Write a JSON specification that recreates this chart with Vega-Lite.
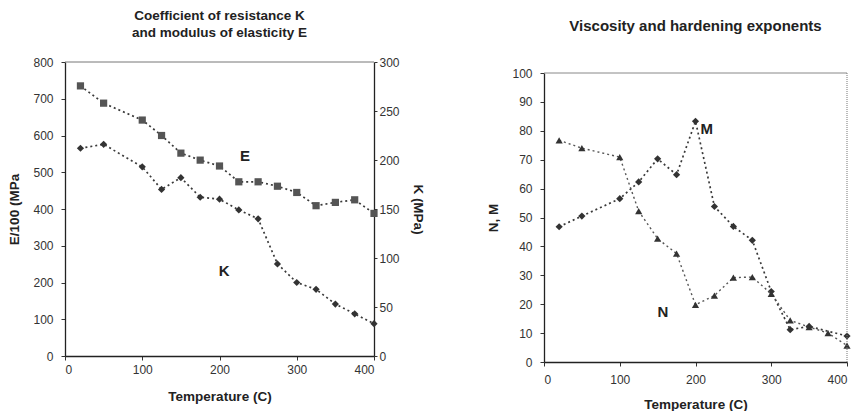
{
  "$schema": "https://vega.github.io/schema/vega-lite/v6.json",
  "padding": {"left": 7, "top": 8, "right": 5, "bottom": 0},
  "background": "white",
  "spacing": 61,
  "config": {
    "font": "Liberation Sans",
    "view": {"stroke": null},
    "axis": {
      "grid": false,
      "domainColor": "#222",
      "domainWidth": 1.3,
      "tickColor": "#333",
      "labelColor": "#333",
      "labelFont": "Liberation Sans",
      "labelFontSize": 12,
      "titleFont": "Liberation Sans",
      "titleFontSize": 13.5,
      "titleFontWeight": "bold",
      "titleColor": "#222",
      "tickSize": 4
    },
    "title": {"font": "Liberation Sans", "fontSize": 13.5, "fontWeight": "bold", "color": "#222"}
  },
  "datasets": {
    "EK": [
      {"T": 20, "E": 735, "K": 212},
      {"T": 50, "E": 688, "K": 216},
      {"T": 100, "E": 642, "K": 193},
      {"T": 125, "E": 600, "K": 170},
      {"T": 150, "E": 552, "K": 182},
      {"T": 175, "E": 533, "K": 162},
      {"T": 200, "E": 517, "K": 160},
      {"T": 225, "E": 474, "K": 149},
      {"T": 250, "E": 474, "K": 140},
      {"T": 275, "E": 462, "K": 94},
      {"T": 300, "E": 445, "K": 75},
      {"T": 325, "E": 409, "K": 68},
      {"T": 350, "E": 418, "K": 53},
      {"T": 375, "E": 425, "K": 43},
      {"T": 400, "E": 388, "K": 33}
    ],
    "M": [
      {"T": 20, "v": 46.8},
      {"T": 50, "v": 50.5},
      {"T": 100, "v": 56.5},
      {"T": 125, "v": 62.3},
      {"T": 150, "v": 70.3},
      {"T": 175, "v": 64.8},
      {"T": 200, "v": 83.3},
      {"T": 225, "v": 53.8},
      {"T": 250, "v": 46.9},
      {"T": 275, "v": 42.1},
      {"T": 300, "v": 24.4},
      {"T": 325, "v": 11.2},
      {"T": 350, "v": 12.3},
      {"T": 400, "v": 9.0}
    ],
    "N": [
      {"T": 20, "v": 76.7},
      {"T": 50, "v": 74.0},
      {"T": 100, "v": 70.9},
      {"T": 125, "v": 52.2},
      {"T": 150, "v": 42.7},
      {"T": 175, "v": 37.5},
      {"T": 200, "v": 19.8},
      {"T": 225, "v": 23.0},
      {"T": 250, "v": 29.2},
      {"T": 275, "v": 29.4},
      {"T": 300, "v": 23.6},
      {"T": 325, "v": 14.4},
      {"T": 350, "v": 12.1},
      {"T": 375, "v": 10.0},
      {"T": 400, "v": 5.7}
    ]
  },
  "hconcat": [
    {
      "width": 309,
      "height": 294,
      "title": {"text": ["Coefficient of resistance K", "and modulus of elasticity E"], "lineHeight": 17, "offset": 17},
      "layer": [
        {
          "data": {"name": "EK"},
          "encoding": {
            "x": {"field": "T", "type": "quantitative", "scale": {"domain": [0, 400]},
              "axis": {"values": [0, 100, 200, 300, 400], "title": "Temperature (C)", "labelPadding": 4, "titlePadding": 14}},
            "y": {"field": "E", "type": "quantitative", "scale": {"domain": [0, 800]},
              "axis": {"orient": "left", "values": [0, 100, 200, 300, 400, 500, 600, 700, 800], "title": "E/100 (MPa", "labelPadding": 8, "titlePadding": 11}}
          },
          "layer": [
            {"mark": {"type": "line", "color": "#3a3a3a", "strokeDash": [2, 3], "strokeWidth": 1.7}},
            {"mark": {"type": "point", "shape": "square", "filled": true, "size": 52, "color": "#555", "opacity": 1}},
            {"data": {"values": [{"T": 233, "E": 544, "label": "E"}]},
              "mark": {"type": "text", "fontSize": 15, "fontWeight": "bold", "color": "#222"},
              "encoding": {"text": {"field": "label"}}},
            {"data": {"values": [{"T0": 0, "T1": 400, "E": 800}]},
              "mark": {"type": "rule", "color": "#777", "strokeWidth": 1},
              "encoding": {"x": {"field": "T0", "type": "quantitative"}, "x2": {"field": "T1"}, "y": {"field": "E", "type": "quantitative"}}}
          ]
        },
        {
          "data": {"name": "EK"},
          "encoding": {
            "x": {"field": "T", "type": "quantitative", "scale": {"domain": [0, 400]}},
            "y": {"field": "K", "type": "quantitative", "scale": {"domain": [0, 300]},
              "axis": {"orient": "right", "values": [0, 50, 100, 150, 200, 250, 300], "title": "K (MPa)", "tickSize": 3, "labelPadding": 2, "titlePadding": 11}}
          },
          "layer": [
            {"mark": {"type": "line", "color": "#3a3a3a", "strokeDash": [2, 3], "strokeWidth": 1.7}},
            {"mark": {"type": "point", "shape": "diamond", "filled": true, "size": 52, "color": "#333", "opacity": 1}},
            {"data": {"values": [{"T": 206, "K": 87, "label": "K"}]},
              "mark": {"type": "text", "fontSize": 15, "fontWeight": "bold", "color": "#222"},
              "encoding": {"text": {"field": "label"}}}
          ]
        }
      ],
      "resolve": {"scale": {"y": "independent"}}
    },
    {
      "width": 303,
      "height": 300,
      "title": {"text": "Viscosity and hardening exponents", "offset": 28, "fontSize": 15},
      "encoding": {
        "x": {"field": "T", "type": "quantitative", "scale": {"domain": [0, 400]},
          "axis": {"values": [0, 100, 200, 300, 400], "title": "Temperature (C)", "labelPadding": 8, "titlePadding": 12}},
        "y": {"field": "v", "type": "quantitative", "scale": {"domain": [0, 100], "range": [300, 11]},
          "axis": {"values": [0, 10, 20, 30, 40, 50, 60, 70, 80, 90, 100], "title": "N, M", "labelPadding": 8, "titlePadding": 11}}
      },
      "layer": [
        {"data": {"name": "M"}, "mark": {"type": "line", "color": "#3a3a3a", "strokeDash": [2, 3], "strokeWidth": 1.7}},
        {"data": {"name": "M"}, "mark": {"type": "point", "shape": "diamond", "filled": true, "size": 52, "color": "#333", "opacity": 1}},
        {"data": {"name": "N"}, "mark": {"type": "line", "color": "#555", "strokeDash": [2, 3], "strokeWidth": 1.4}},
        {"data": {"name": "N"}, "mark": {"type": "point", "shape": "triangle-up", "filled": true, "size": 52, "color": "#333", "opacity": 1}},
        {"data": {"values": [{"T": 215, "v": 80.7, "label": "M"}, {"T": 157, "v": 17.4, "label": "N"}]},
          "mark": {"type": "text", "fontSize": 15, "fontWeight": "bold", "color": "#222"},
          "encoding": {"text": {"field": "label"}}},
        {"data": {"values": [{"T0": 0, "T1": 400, "v": 100}]},
          "mark": {"type": "rule", "color": "#888", "strokeWidth": 1},
          "encoding": {"x": {"field": "T0", "type": "quantitative"}, "x2": {"field": "T1"}, "y": {"field": "v", "type": "quantitative"}}},
        {"data": {"values": [{"T": 400, "v0": 0, "v1": 100}]},
          "mark": {"type": "rule", "color": "#777", "strokeWidth": 1, "strokeDash": [1, 1]},
          "encoding": {"x": {"field": "T", "type": "quantitative"}, "y": {"field": "v0", "type": "quantitative"}, "y2": {"field": "v1"}}}
      ]
    }
  ]
}
